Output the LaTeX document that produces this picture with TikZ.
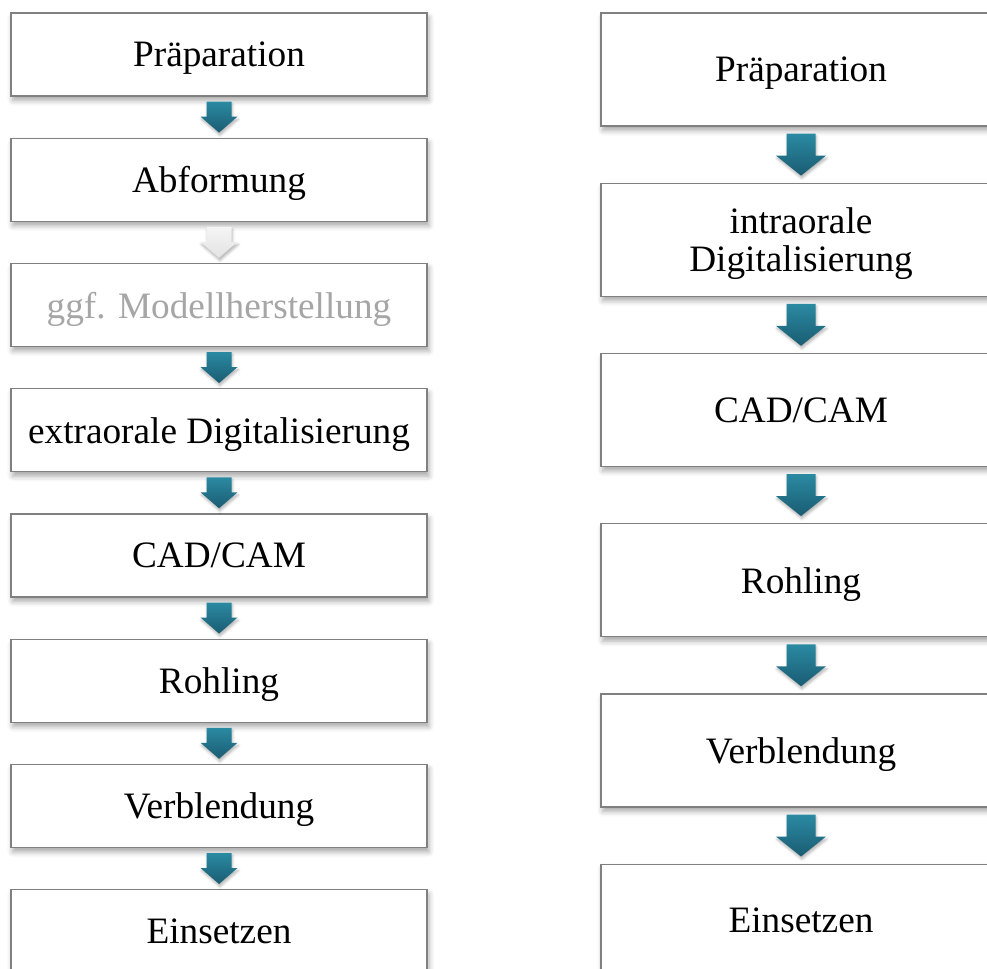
\documentclass[tikz,border=0pt]{standalone}
\usepackage{fontspec}
\setmainfont{Liberation Serif}
\usetikzlibrary{positioning, calc, shadows.blur}

\definecolor{framegray}{RGB}{128,128,128}
\definecolor{fadedtext}{RGB}{166,166,166}
\definecolor{arrowtop}{RGB}{42,138,162}
\definecolor{arrowbottom}{RGB}{26,92,114}

\tikzset{
  stepbox/.style={draw=framegray, line width=0.7pt, fill=white,
    align=center, inner sep=2pt, text depth=0pt,
    font=\fontsize{21.2}{21.6}\selectfont,
    blur shadow={shadow xshift=1pt, shadow yshift=-2.5pt,
      shadow blur radius=3pt, shadow opacity=35}},
  leftbox/.style={stepbox, minimum width=8.32cm, minimum height=1.66cm},
  rightbox/.style={stepbox, minimum width=8cm, minimum height=2.26cm},
  tealfill/.style={top color=arrowtop, bottom color=arrowbottom},
  palefill/.style={top color=gray!8, bottom color=gray!22},
  pics/blockdown/.style args={#1/#2/#3/#4}{code={
    % #1 shaft half width, #2 head half width, #3 length, #4 head length
    \path[pic actions, blur shadow={shadow xshift=0.5pt, shadow yshift=-1.5pt,
        shadow blur radius=1.5pt, shadow opacity=30}]
      (-#1,#3/2) -- (#1,#3/2) -- (#1,-#3/2+#4) -- (#2,-#3/2+#4)
      -- (0,-#3/2) -- (-#2,-#3/2+#4) -- (-#1,-#3/2+#4) -- cycle;
  }}
}

\begin{document}
\begin{tikzpicture}
  \path[use as bounding box, clip] (0,0) rectangle (19.74,19.36);

  % conventional workflow
  \node[leftbox] (prepL) at (4.38,18.27) {Präparation};
  \node[leftbox, below=0.82cm of prepL] (impL) {Abformung};
  \node[leftbox, below=0.82cm of impL, text=fadedtext] (modelL) {ggf. Modellherstellung};
  \node[leftbox, below=0.82cm of modelL] (scanL) {extraorale Digitalisierung};
  \node[leftbox, below=0.82cm of scanL] (cadL) {CAD/CAM};
  \node[leftbox, below=0.82cm of cadL] (blankL) {Rohling};
  \node[leftbox, below=0.82cm of blankL] (veneerL) {Verblendung};
  \node[leftbox, below=0.82cm of veneerL] (seatL) {Einsetzen};

  \path ($(prepL.south)!0.5!(impL.north)$) pic[tealfill] {blockdown=0.25/0.37/0.62/0.32};
  \path ($(impL.south)!0.5!(modelL.north)$) pic[palefill] {blockdown=0.25/0.37/0.62/0.32};
  \path ($(modelL.south)!0.5!(scanL.north)$) pic[tealfill] {blockdown=0.25/0.37/0.62/0.32};
  \path ($(scanL.south)!0.5!(cadL.north)$) pic[tealfill] {blockdown=0.25/0.37/0.62/0.32};
  \path ($(cadL.south)!0.5!(blankL.north)$) pic[tealfill] {blockdown=0.25/0.37/0.62/0.32};
  \path ($(blankL.south)!0.5!(veneerL.north)$) pic[tealfill] {blockdown=0.25/0.37/0.62/0.32};
  \path ($(veneerL.south)!0.5!(seatL.north)$) pic[tealfill] {blockdown=0.25/0.37/0.62/0.32};

  % digital workflow
  \node[rightbox] (prepR) at (16.02,17.97) {Präparation};
  \node[rightbox, below=1.12cm of prepR] (scanR) {intraorale\\Digitalisierung};
  \node[rightbox, below=1.12cm of scanR] (cadR) {CAD/CAM};
  \node[rightbox, below=1.12cm of cadR] (blankR) {Rohling};
  \node[rightbox, below=1.12cm of blankR] (veneerR) {Verblendung};
  \node[rightbox, below=1.12cm of veneerR] (seatR) {Einsetzen};

  \foreach \a/\b in {prepR/scanR, scanR/cadR, cadR/blankR, blankR/veneerR, veneerR/seatR}
    \path ($(\a.south)!0.5!(\b.north)$) pic[tealfill] {blockdown=0.29/0.5/0.84/0.4};
\end{tikzpicture}
\end{document}
